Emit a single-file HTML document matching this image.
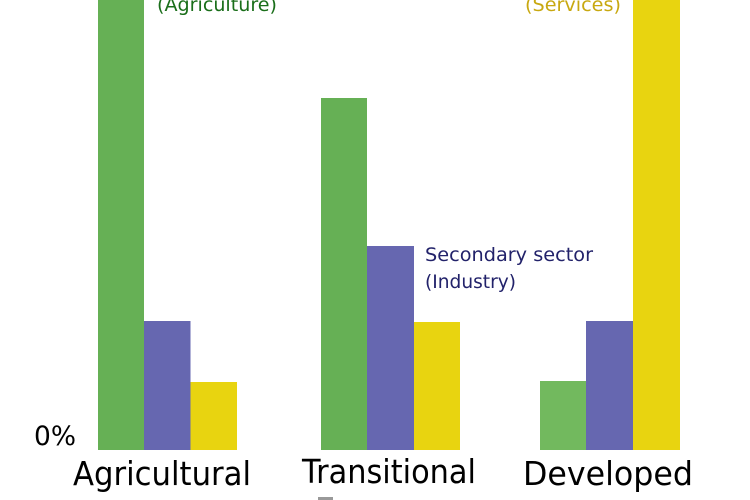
<!DOCTYPE html>
<html><head><meta charset="utf-8"><style>html,body{margin:0;padding:0;background:#fff}svg{display:block}</style></head>
<body>
<svg width="750" height="500" xmlns="http://www.w3.org/2000/svg" font-family="DejaVu Sans, Liberation Sans, sans-serif">
<rect width="750" height="500" fill="#fff"/>
<rect x="98" y="0" width="46" height="450" fill="#66b055"/>
<rect x="144" y="321" width="46.5" height="129" fill="#6667b0"/>
<rect x="190.5" y="382" width="46.5" height="68" fill="#e8d410"/>
<rect x="321" y="98" width="46" height="352" fill="#66b055"/>
<rect x="367" y="246" width="47" height="204" fill="#6667b0"/>
<rect x="414" y="322" width="46" height="128" fill="#e8d410"/>
<rect x="540" y="381" width="46" height="69" fill="#72b95e"/>
<rect x="586" y="321" width="47" height="129" fill="#6667b0"/>
<rect x="633" y="0" width="47" height="450" fill="#e8d410"/>
<text x="157" y="11" font-size="19" fill="#1a6e1a" textLength="120" lengthAdjust="spacingAndGlyphs">(Agriculture)</text>
<text x="525" y="11" font-size="19" fill="#c8a810" textLength="96" lengthAdjust="spacingAndGlyphs">(Services)</text>
<text x="425" y="261" font-size="19" fill="#22226a" textLength="168" lengthAdjust="spacingAndGlyphs">Secondary sector</text>
<text x="425" y="288" font-size="19" fill="#22226a" textLength="91" lengthAdjust="spacingAndGlyphs">(Industry)</text>
<text x="34" y="445" font-size="27" fill="#000" textLength="42" lengthAdjust="spacingAndGlyphs">0%</text>
<text x="73" y="485" font-size="33" fill="#000" textLength="178" lengthAdjust="spacingAndGlyphs">Agricultural</text>
<text x="302" y="483" font-size="33" fill="#000" textLength="174" lengthAdjust="spacingAndGlyphs">Transitional</text>
<text x="523" y="485" font-size="33" fill="#000" textLength="170" lengthAdjust="spacingAndGlyphs">Developed</text>
<rect x="318" y="497" width="15" height="3" fill="#999"/>
</svg>
</body></html>
